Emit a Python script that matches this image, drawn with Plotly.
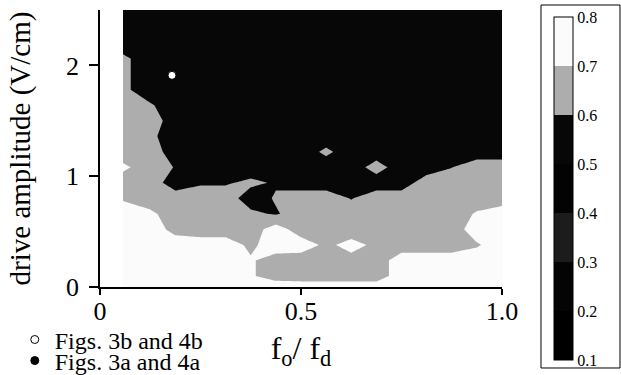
import plotly.graph_objects as go

# ---- data ----
fo_fd = [0.057, 0.125, 0.1875, 0.25, 0.3125, 0.375, 0.4375, 0.5,
         0.5625, 0.625, 0.6875, 0.75, 0.8125, 0.875, 0.9375, 1.0]
drive_amp = [0.0, 0.10, 0.24, 0.38, 0.52, 0.66, 0.80, 0.94, 1.08, 1.22,
             1.36, 1.50, 1.64, 1.78, 1.92, 2.06, 2.20, 2.34, 2.50]

# rows = drive amplitude (bottom -> top), columns = fo/fd (left -> right)
z_rows = [
    [.75, .75, .75, .75, .75, .75, .75, .75, .75, .75, .75, .75, .75, .75, .75, .75],
    [.75, .75, .75, .75, .75, .71, .66, .65, .65, .65, .65, .75, .75, .75, .75, .75],
    [.75, .75, .75, .75, .75, .71, .66, .65, .65, .67, .65, .75, .75, .75, .75, .75],
    [.75, .75, .75, .75, .75, .68, .75, .75, .68, .73, .68, .65, .65, .65, .69, .75],
    [.75, .75, .67, .65, .65, .65, .75, .65, .65, .65, .65, .65, .65, .65, .75, .75],
    [.75, .72, .65, .65, .65, .62, .59, .65, .65, .65, .65, .65, .65, .65, .71, .75],
    [.69, .65, .65, .65, .65, .55, .61, .65, .65, .595, .65, .65, .65, .65, .65, .65],
    [.65, .65, .55, .59, .59, .62, .59, .55, .55, .55, .55, .55, .65, .65, .65, .65],
    [.72, .65, .595, .55, .55, .55, .55, .55, .55, .55, .64, .55, .55, .598, .65, .65],
    [.65, .65, .55, .55, .55, .55, .55, .55, .62, .55, .55, .55, .55, .55, .55, .55],
    [.65, .62, .55, .55, .55, .55, .55, .55, .55, .55, .55, .55, .55, .55, .55, .55],
    [.65, .65, .55, .55, .55, .55, .55, .55, .55, .55, .55, .55, .55, .55, .55, .55],
    [.65, .61, .55, .55, .55, .55, .55, .55, .55, .55, .55, .55, .55, .55, .55, .55],
    [.62, .55, .55, .55, .55, .55, .55, .55, .55, .55, .55, .55, .55, .55, .55, .55],
    [.62, .55, .55, .55, .55, .55, .55, .55, .55, .55, .55, .55, .55, .55, .55, .55],
    [.62, .55, .55, .55, .55, .55, .55, .55, .55, .55, .55, .55, .55, .55, .55, .55],
    [.55, .55, .55, .55, .55, .55, .55, .55, .55, .55, .55, .55, .55, .55, .55, .55],
    [.55, .55, .55, .55, .55, .55, .55, .55, .55, .55, .55, .55, .55, .55, .55, .55],
    [.55, .55, .55, .55, .55, .55, .55, .55, .55, .55, .55, .55, .55, .55, .55, .55],
]

level_ticks = [0.1, 0.2, 0.3, 0.4, 0.5, 0.6, 0.7, 0.8]
level_labels = ["0.1", "0.2", "0.3", "0.4", "0.5", "0.6", "0.7", "0.8"]

point_b_x = [0.179]
point_b_y = [1.91]

x_tick_vals = [0, 0.5, 1.0]
x_tick_text = ["0", "0.5", "1.0"]
y_tick_vals = [0, 1, 2]
y_tick_text = ["0", "1", "2"]

# ---- styling ----
band_colors = ["#000000", "#040404", "#1c1c1c", "#030303", "#070707", "#adadad", "#fbfbfb"]
FONT = "Liberation Serif"

# stepped colour scale for the contour fill (regions: below start, 7 bands, above end -> k/8)
regions = [band_colors[0]] + band_colors + [band_colors[-1]]
fill_scale = []
for k, col in enumerate(regions):
    fill_scale.append([max(0.0, (k - 0.5) / 8), col])
    fill_scale.append([min(1.0, (k + 0.5) / 8), col])

# stepped colour scale for the colour bar over 0.1 .. 0.8
bar_scale = []
for k, col in enumerate(band_colors):
    bar_scale.append([k / 7, col])
    bar_scale.append([(k + 1) / 7, col])

fig = go.Figure()
fig.add_trace(go.Contour(
    x=fo_fd, y=drive_amp, z=z_rows,
    autocontour=False,
    contours=dict(start=0.1, end=0.8, size=0.1, coloring="fill", showlines=False),
    line=dict(width=0, smoothing=0),
    colorscale=fill_scale,
    showscale=False,
    showlegend=False,
    hoverinfo="skip",
))

# colour bar carrier (no visible marks)
fig.add_trace(go.Scatter(
    x=[None], y=[None], mode="markers", showlegend=False, hoverinfo="skip",
    marker=dict(
        color=[0.5], cmin=0.1, cmax=0.8, colorscale=bar_scale, showscale=True,
        colorbar=dict(
            thicknessmode="pixels", thickness=19,
            lenmode="pixels", len=343,
            x=1.1294, xanchor="left", xpad=0,
            y=0.975, yanchor="top", ypad=0,
            outlinewidth=1, outlinecolor="black",
            tickvals=level_ticks, ticktext=level_labels,
            ticks="", tickfont=dict(family=FONT, size=16, color="black"),
            borderwidth=0,
        ),
    ),
))

fig.add_trace(go.Scatter(
    x=point_b_x, y=point_b_y, mode="markers",
    marker=dict(size=8, color="white", line=dict(color="black", width=1)),
    name="Figs. 3b and 4b", legend="legend", hoverinfo="skip", showlegend=True,
))
fig.add_trace(go.Scatter(
    x=[None], y=[None], mode="markers",
    marker=dict(size=8, color="black", line=dict(color="black", width=1)),
    name="Figs. 3a and 4a", legend="legend2", hoverinfo="skip", showlegend=True,
))

axis_common = dict(
    showline=True, linecolor="black", linewidth=1.5,
    ticks="outside", tickcolor="black", tickwidth=1.5,
    showgrid=False, zeroline=False, mirror=False,
    tickfont=dict(family=FONT, size=26, color="black"),
)

fig.update_layout(
    width=621, height=375,
    showlegend=True,
    margin=dict(l=100, r=119, t=10, b=88, autoexpand=False),
    paper_bgcolor="white", plot_bgcolor="white",
    font=dict(family=FONT, color="black"),
    xaxis=dict(range=[0, 1.0], tickvals=x_tick_vals, ticktext=x_tick_text, ticklen=6,
               ticklabelstandoff=-6,
               title=dict(text="f<sub>o</sub>/ f<sub>d</sub>", font=dict(family=FONT, size=32),
                          standoff=12),
               **axis_common),
    yaxis=dict(range=[0, 2.5], tickvals=y_tick_vals, ticktext=y_tick_text, ticklen=9,
               ticklabelstandoff=5,
               title=dict(text="drive amplitude (V/cm)", font=dict(family=FONT, size=29),
                          standoff=27),
               **axis_common),
    legend=dict(x=-0.212, y=-0.191, xanchor="left", yanchor="middle",
                font=dict(family=FONT, size=24), bgcolor="rgba(0,0,0,0)", borderwidth=0),
    legend2=dict(x=-0.212, y=-0.267, xanchor="left", yanchor="middle",
                 font=dict(family=FONT, size=24), bgcolor="rgba(0,0,0,0)", borderwidth=0),
    shapes=[dict(type="rect", xref="paper", yref="paper",
                 x0=1.097, x1=1.2935, y0=-0.2924, y1=1.018,
                 line=dict(color="black", width=1), fillcolor="rgba(0,0,0,0)")],
)

fig.write_html(
    "out.html",
    config={"displayModeBar": False},
    post_script="document.body.style.margin='0';document.body.style.padding='0';"
                "document.body.style.overflow='hidden';",
)
